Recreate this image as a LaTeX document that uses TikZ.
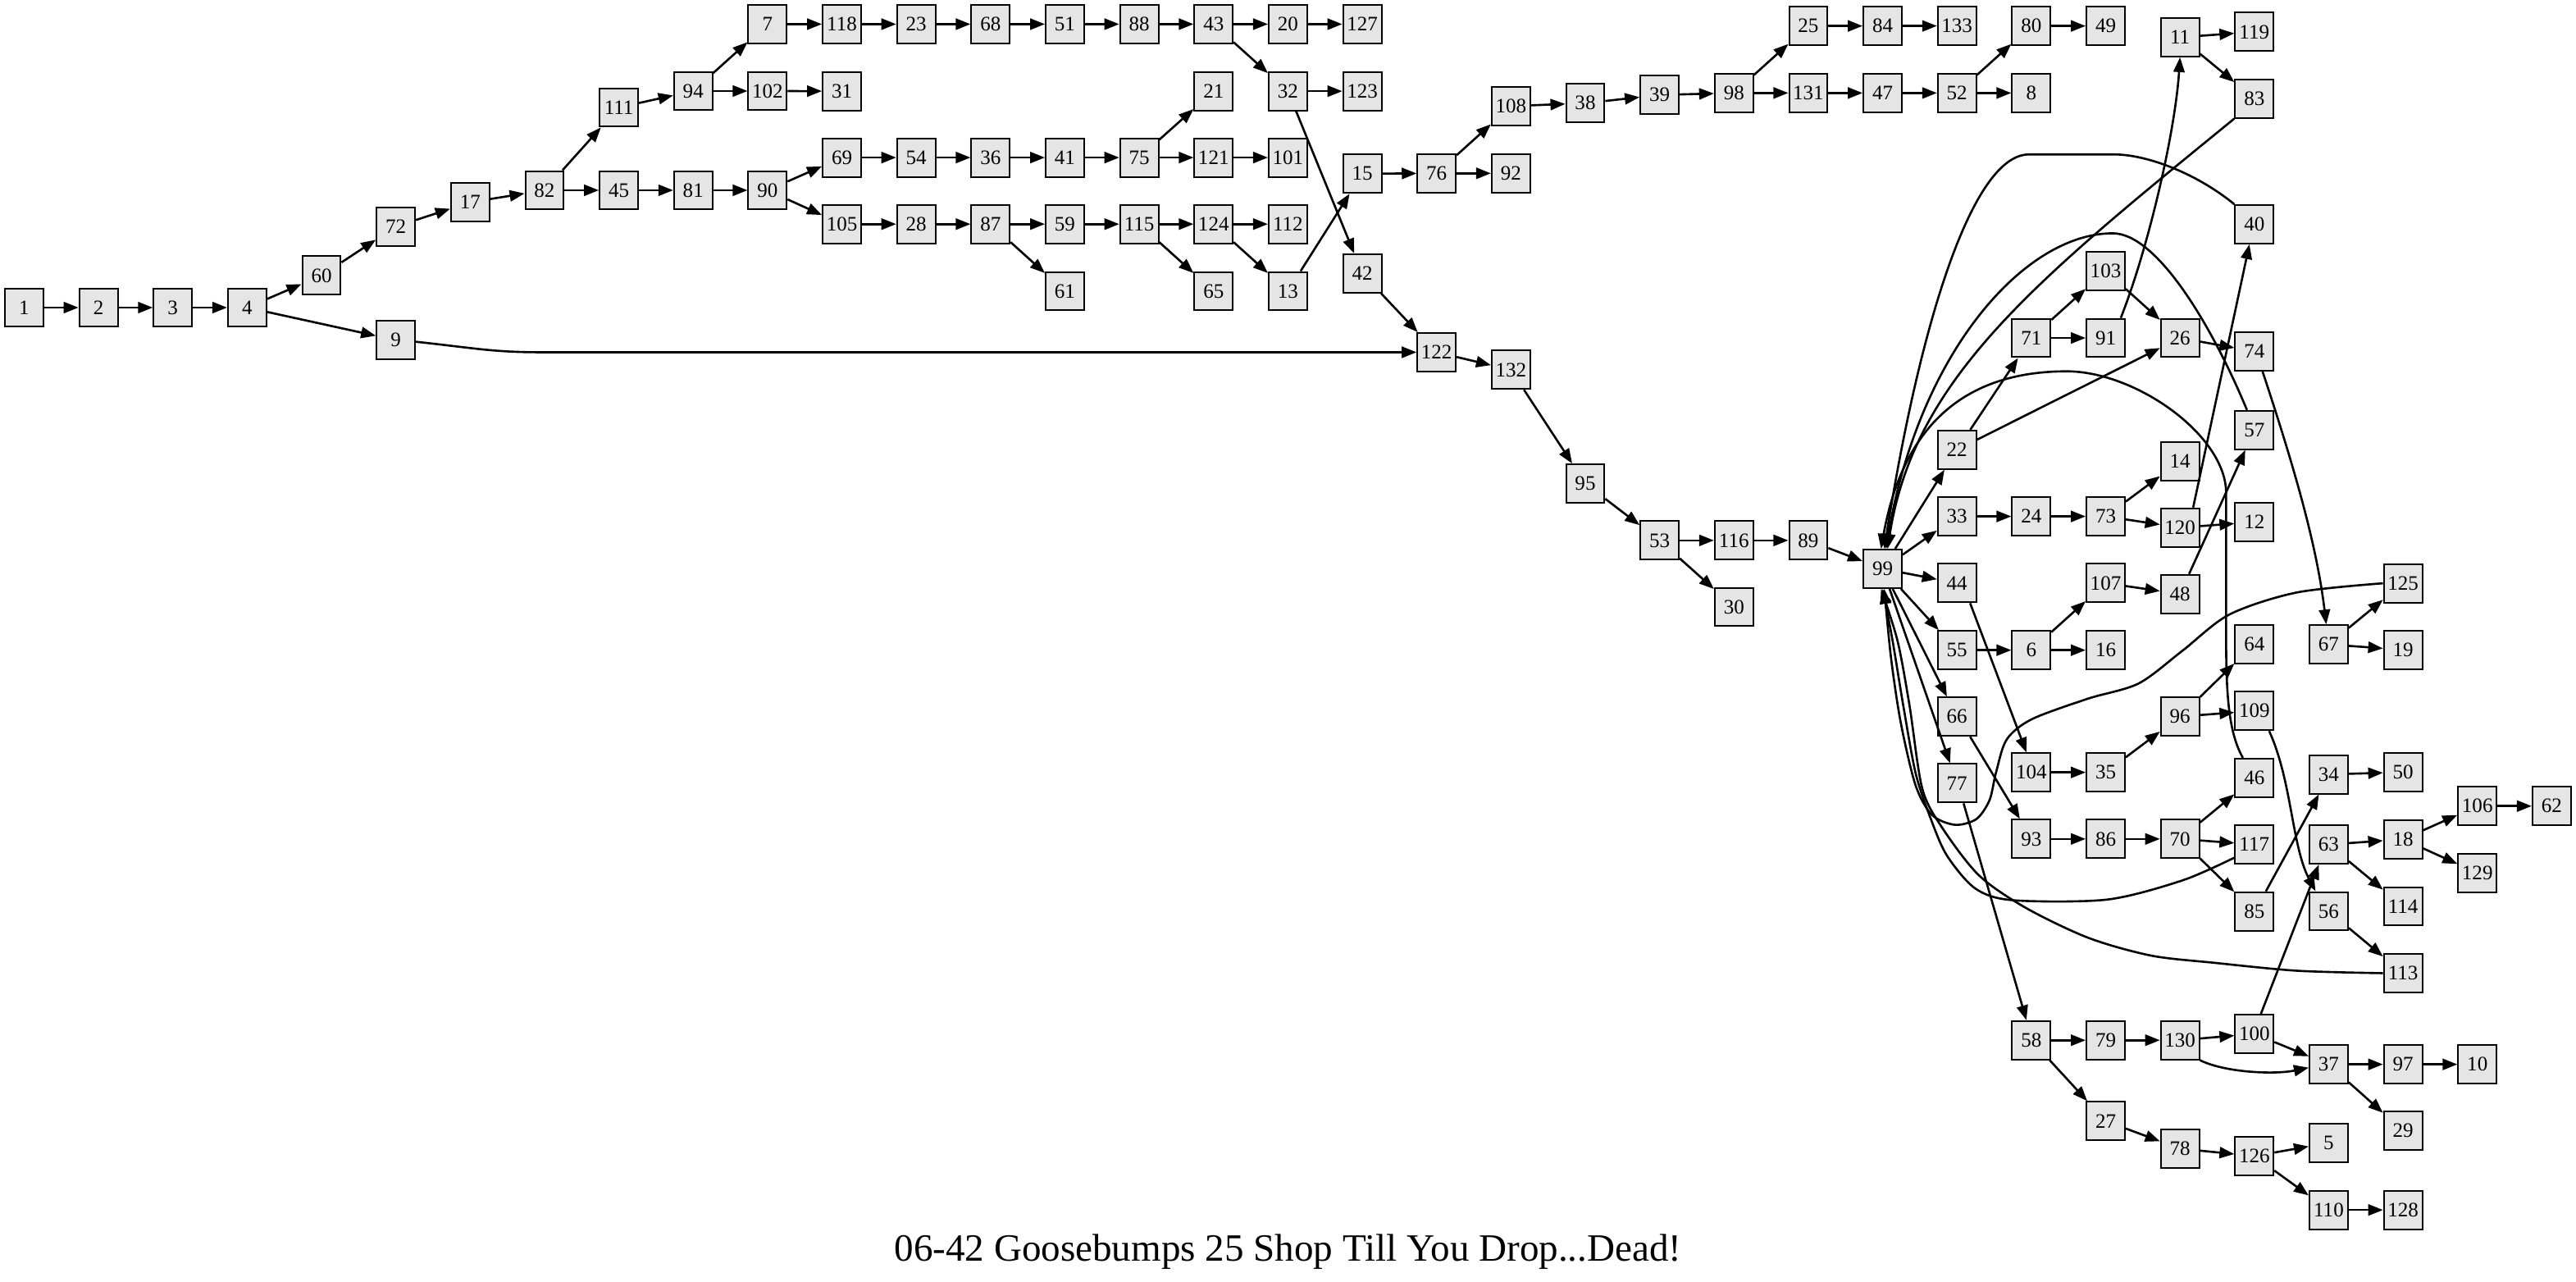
\documentclass[tikz,border=0pt]{standalone}
\usepackage{fontspec}
\setmainfont{Liberation Serif}
\usetikzlibrary{arrows.meta}
\definecolor{boxgray}{RGB}{229,229,229}
\newcommand\gnodefont{\fontsize{12.5}{12.5}\selectfont}
\newcommand\gtitlefont{\fontsize{23.5}{24}\selectfont}
\tikzset{
  gbox/.style={draw=black, line width=1pt, fill=boxgray, minimum width=23.4pt, minimum height=23.4pt, inner sep=0pt, font=\gnodefont},
  gedge/.style={line width=1.3pt, -{Triangle[length=9pt,width=6.8pt]}},
}
\begin{document}
\begin{tikzpicture}[x=1pt,y=-1pt]
\useasboundingbox (0,0) rectangle (1568,780.25);
% nodes
\foreach \n/\x/\y in {
1/14.7/187.2, 2/59.95/187.2, 3/105.2/187.2, 4/150.45/187.2, 60/195.7/167.7,
72/240.95/137.9, 9/240.95/207, 17/286.2/123.1, 82/331.45/115.8, 111/376.7/65.4,
45/376.7/115.8, 94/421.95/55.4, 81/421.95/115.8, 7/467.2/14.7, 102/467.2/55.4,
90/467.2/115.8, 118/512.45/14.7, 31/512.45/55.5, 69/512.45/95.9, 105/512.45/136.4,
23/557.7/14.7, 54/557.7/95.9, 28/557.7/136.4, 68/602.95/14.7, 36/602.95/95.9,
87/602.95/136.4, 51/648.2/14.7, 41/648.2/95.9, 59/648.2/136.4, 61/648.2/177.2,
88/693.45/14.7, 75/693.45/95.9, 115/693.45/136.4, 43/738.7/14.7, 21/738.7/55.5,
121/738.7/95.9, 124/738.7/136.4, 65/738.7/177.2, 20/783.95/14.7, 32/783.95/55.5,
101/783.95/95.9, 112/783.95/136.4, 13/783.95/177.2, 127/829.2/14.7, 123/829.2/55.5,
15/829.2/105.7, 42/829.2/166.4, 76/874.45/105.5, 122/874.45/214.4, 108/919.7/64.6,
92/919.7/105.5, 132/919.7/225.1, 38/964.95/62.8, 95/964.95/294.3, 39/1010.2/57.8,
53/1010.2/328.9, 98/1055.45/56.6, 116/1055.45/328.9, 30/1055.45/369.4, 25/1100.7/15.8,
131/1100.7/56.6, 89/1100.7/328.9, 84/1145.95/15.8, 47/1145.95/56.6, 99/1145.95/346.2,
133/1191.2/15.8, 52/1191.2/56.6, 22/1191.2/273.7, 33/1191.2/314.3, 44/1191.2/354.9,
55/1191.2/395.7, 66/1191.2/436.2, 77/1191.2/476.7, 80/1236.45/15.8, 8/1236.45/56.6,
71/1236.45/205.7, 24/1236.45/314.3, 6/1236.45/395.7, 104/1236.45/470.1, 93/1236.45/510.6,
58/1236.45/633.1, 49/1281.7/15.8, 103/1281.7/164.8, 91/1281.7/205.7, 73/1281.7/314.3,
107/1281.7/354.9, 16/1281.7/395.7, 35/1281.7/470.1, 86/1281.7/510.6, 79/1281.7/633.1,
27/1281.7/682.3, 11/1326.95/22.7, 26/1326.95/205.7, 14/1326.95/280.8, 120/1326.95/321.1,
48/1326.95/361.5, 96/1326.95/436.1, 70/1326.95/510.6, 130/1326.95/633.1, 78/1326.95/699.1,
119/1372.2/19.4, 83/1372.2/60, 40/1372.2/136.5, 74/1372.2/213.9, 57/1372.2/261.7,
12/1372.2/317.8, 64/1372.2/392, 109/1372.2/432.7, 46/1372.2/473.4, 117/1372.2/514,
85/1372.2/554.7, 100/1372.2/629.2, 126/1372.2/703.6, 67/1417.45/392.2, 34/1417.45/471.3,
63/1417.45/514, 56/1417.45/554.6, 37/1417.45/647.8, 5/1417.45/695.6, 110/1417.45/736.4,
125/1462.7/355, 19/1462.7/395.5, 50/1462.7/470, 18/1462.7/510.8, 114/1462.7/551.6,
113/1462.7/592.3, 97/1462.7/647.8, 29/1462.7/688.2, 128/1462.7/736.4, 106/1507.95/490.6,
129/1507.95/531.3, 10/1507.95/647.8, 62/1553.2/490.6}
  \node[gbox] (n\n) at (\x,\y) {\n};
\node[font=\gtitlefont] (title) at (784,762) {06-42 Goosebumps 25 Shop Till You Drop...Dead!};
% straight edges
\foreach \a/\b in {1/2, 2/3, 3/4, 4/60, 4/9, 60/72, 72/17, 17/82, 82/111, 82/45,
  111/94, 94/7, 94/102, 102/31, 7/118, 118/23, 23/68, 68/51, 51/88, 88/43, 43/20,
  20/127, 43/32, 32/123, 32/42, 45/81, 81/90, 90/69, 90/105, 69/54, 54/36, 36/41,
  41/75, 75/21, 75/121, 121/101, 105/28, 28/87, 87/59, 87/61, 59/115, 115/124,
  115/65, 124/112, 124/13, 13/15, 15/76, 76/108, 76/92, 108/38, 38/39, 39/98,
  98/25, 98/131, 25/84, 84/133, 131/47, 47/52, 52/80, 52/8, 80/49, 42/122,
  122/132, 132/95, 95/53, 53/116, 53/30, 116/89, 89/99,
  99/22, 99/33, 99/44, 99/55, 99/66, 99/77,
  22/71, 22/26, 71/103, 71/91, 103/26, 11/119, 11/83, 26/74, 48/57,
  33/24, 24/73, 73/14, 73/120, 120/12, 55/6, 6/107, 6/16, 107/48,
  104/35, 35/96, 96/64, 96/109, 56/113, 93/86, 86/70, 70/46, 70/117, 70/85,
  34/50, 67/125, 67/19, 63/18, 63/114, 18/106, 18/129, 106/62,
  58/79, 58/27, 79/130, 130/100, 100/37, 37/97, 37/29, 97/10, 27/78, 78/126,
  126/5, 126/110, 110/128}
  \draw[gedge] (n\a) -- (n\b);
% shifted straight edges
\draw[gedge] ([xshift=8pt]n120.north) -- ([xshift=-3pt]n40.south);
\draw[gedge] ([xshift=4pt]n100.north) -- ([xshift=-6pt]n63.south);
\draw[gedge] ([xshift=7pt]n85.north) -- ([xshift=-6pt]n34.south);
\draw[gedge] ([xshift=8pt]n44.south) -- ([xshift=-3pt]n104.north);
\draw[gedge] ([xshift=8pt]n66.south) -- ([xshift=-7pt]n93.north);
\draw[gedge] ([xshift=4pt]n77.south) -- ([xshift=-3pt]n58.north);
% curved edges
\draw[gedge] ([yshift=-1pt]n9.east) .. controls (290,212) and (300,214.4) .. (330,214.4) -- (n122.west);
\draw[gedge] ([xshift=-3pt]n91.north east) .. controls (1308,150) and (1324,80) .. (n11.south);
\draw[gedge] (n83.south west) .. controls (1240,170) and (1165,230) .. ([xshift=3pt]n99.north);
\draw[gedge] (n40.north west) .. controls (1335,104) and (1305,94) .. (1287,94) -- (1235,94) .. controls (1200,94) and (1168,200) .. ([xshift=1pt]n99.north);
\draw[gedge] ([xshift=-4.5pt]n57.north) .. controls (1345,195) and (1312,142) .. (1286,142) .. controls (1232,142) and (1168,215) .. ([xshift=2pt]n99.north);
\draw[gedge] ([xshift=-7pt]n46.north) .. controls (1356,445) and (1355,420) .. (1355,385) -- (1355,300) .. controls (1355,265) and (1300,226) .. (1258,226) .. controls (1205,226) and (1160,250) .. ([xshift=-1pt]n99.north);
\draw[gedge] ([xshift=5pt]n74.south) .. controls (1395,280) and (1410,330) .. ([xshift=-1.5pt]n67.north);
\draw[gedge] ([xshift=9pt]n109.south) .. controls (1395,475) and (1395,515) .. ([xshift=-8pt]n56.north);
\draw[gedge] (n130.south east) .. controls (1355,653) and (1385,654) .. ([yshift=-2pt]n37.west);
\draw[gedge] plot[smooth] coordinates {(n125.west) (1398,360.6) (1357,374) (1328.5,396) (1301.7,416) (1271,425.2) (1236.8,437.7) (1221.5,450) (1215,470) (1211,487) (1203,498.5) (1190,502) (1176,496) (1166,478) (1157,440) (1151,400) ([xshift=1pt]n99.south)};
\draw[gedge] plot[smooth] coordinates {([yshift=-8pt]n117.west) (1328.5,535.8) (1282.6,547.5) (1225.3,547.9) (1202.4,540.8) (1185.2,520.9) (1175.6,499.3) (1166.1,470.9) (1158.5,429.4) (1152,390) (n99.south)};
\draw[gedge] plot[smooth] coordinates {(n113.west) (1398,590.8) (1348,586) (1309.4,581.6) (1271.2,570.8) (1233,552.5) (1204.3,532.5) (1181.4,502.6) (1169.9,479.3) (1162.3,429.4) (1155,390) ([xshift=-1pt]n99.south)};
\end{tikzpicture}
\end{document}
